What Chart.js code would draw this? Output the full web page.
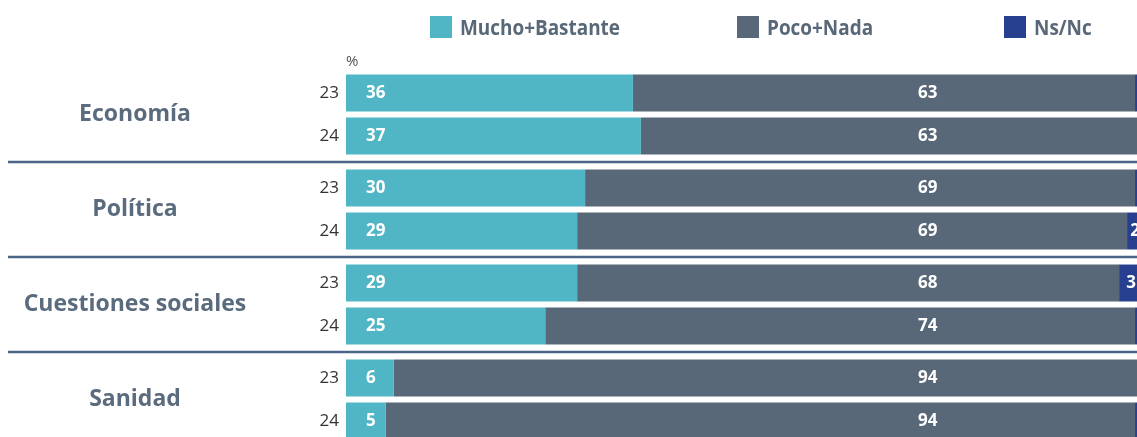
<!DOCTYPE html>
<html>
<head>
<meta charset="utf-8">
<script src="https://cdn.jsdelivr.net/npm/chart.js@4/dist/chart.umd.min.js"></script>
<style>
  html, body { margin: 0; padding: 0; background: #fff; overflow: hidden; }
  #wrap { position: relative; width: 1150px; height: 460px; }
  #legend { position: absolute; top: 16px; left: 0; height: 22px; }
  .item { position: absolute; top: 0; height: 22px; white-space: nowrap; }
  .box { position: absolute; left: 0; top: 0; width: 22px; height: 22px; }
  .txt { position: absolute; left: 30px; top: -2px; font: bold 22px "Open Sans", sans-serif; color: #586878; line-height: 24px; transform: scaleX(0.86); transform-origin: 0 50%; }
</style>
</head>
<body>
<div id="wrap">
  <canvas id="myChart"></canvas>
  <div id="legend"></div>
</div>
<script>
const categories = ['Economía', 'Política', 'Cuestiones sociales', 'Sanidad'];
const years = ['23', '24'];
const seriesNames = ['Mucho+Bastante', 'Poco+Nada', 'Ns/Nc'];
const seriesColors = ['#50b5c5', '#586878', '#263f8f'];

// valores por año
const mucho23 = [36, 30, 29, 6];
const poco23  = [63, 69, 68, 94];
const nsnc23  = [1, 1, 3, 0];
const mucho24 = [37, 29, 25, 5];
const poco24  = [63, 69, 74, 94];
const nsnc24  = [0, 2, 1, 1];

const valuesByYear = {
    '23': [mucho23, poco23, nsnc23],
    '24': [mucho24, poco24, nsnc24]
};

let datasets = [];
years.forEach(year => {
    valuesByYear[year].forEach((vals, s) => {
        datasets.push({
            label: seriesNames[s],
            data: vals,
            stack: year,
            backgroundColor: seriesColors[s],
            borderWidth: 0,
            serie: s
        });
    });
});

// leyenda html
const legendPos = [430, 737, 1004];
seriesNames.forEach((name, i) => {
    let item = document.createElement('div');
    item.className = 'item';
    item.style.left = legendPos[i] + 'px';
    item.innerHTML = '<div class="box" style="background:' + seriesColors[i] + '"></div><div class="txt">' + name + '</div>';
    document.getElementById('legend').appendChild(item);
});

const pocoLabelAt = 73;

const labelsPlugin = {
    id: 'labelsPlugin',
    afterDatasetsDraw(chart) {
        const ctx = chart.ctx;
        const area = chart.chartArea;
        const xScale = chart.scales.x;
        const yScale = chart.scales.y;
        ctx.save();

        // separadores
        ctx.strokeStyle = '#4a6585';
        ctx.lineWidth = 2.5;
        for (let i = 0; i < categories.length - 1; i++) {
            let y = (yScale.getPixelForValue(i) + yScale.getPixelForValue(i + 1)) / 2;
            ctx.beginPath();
            ctx.moveTo(8, y);
            ctx.lineTo(chart.width, y);
            ctx.stroke();
        }

        // categorias
        ctx.fillStyle = '#5a6b7d';
        ctx.font = 'bold 23px "Open Sans", sans-serif';
        ctx.textAlign = 'center';
        ctx.textBaseline = 'middle';
        categories.forEach((c, i) => {
            ctx.fillText(c, 135, yScale.getPixelForValue(i));
        });

        // %
        ctx.fillStyle = '#555';
        ctx.font = '15px "Open Sans", sans-serif';
        ctx.textAlign = 'left';
        ctx.fillText('%', area.left, 62);

        chart.data.datasets.forEach((ds, d) => {
            const meta = chart.getDatasetMeta(d);
            meta.data.forEach((bar, i) => {
                const v = ds.data[i];
                // años
                if (ds.serie == 0) {
                    ctx.fillStyle = '#333';
                    ctx.font = '17px "Open Sans", sans-serif';
                    ctx.textAlign = 'right';
                    ctx.fillText(ds.stack, area.left - 7, bar.y);
                }
                if (!v) return;
                ctx.fillStyle = '#fff';
                ctx.font = 'bold 17px "Open Sans", sans-serif';
                if (ds.serie == 0) {
                    ctx.textAlign = 'left';
                    ctx.fillText(v, bar.base + 20, bar.y);
                } else if (ds.serie == 1) {
                    ctx.textAlign = 'center';
                    ctx.fillText(v, xScale.getPixelForValue(pocoLabelAt), bar.y);
                } else if (v >= 2) {
                    ctx.textAlign = 'center';
                    ctx.fillText(v, (bar.base + bar.x) / 2, bar.y);
                }
            });
        });
        ctx.restore();
    }
};

new Chart(document.getElementById('myChart'), {
    type: 'bar',
    data: { labels: categories, datasets: datasets },
    options: {
        indexAxis: 'y',
        responsive: true,
        maintainAspectRatio: false,
        animation: false,
        categoryPercentage: 0.905,
        barPercentage: 0.86,
        layout: { padding: { left: 346, right: 7, top: 67, bottom: 13 } },
        scales: {
            x: { stacked: true, min: 0, max: 100, display: false },
            y: { stacked: true, display: false }
        },
        plugins: {
            legend: { display: false },
            tooltip: { enabled: false }
        }
    },
    plugins: [labelsPlugin]
});
</script>
</body>
</html>
